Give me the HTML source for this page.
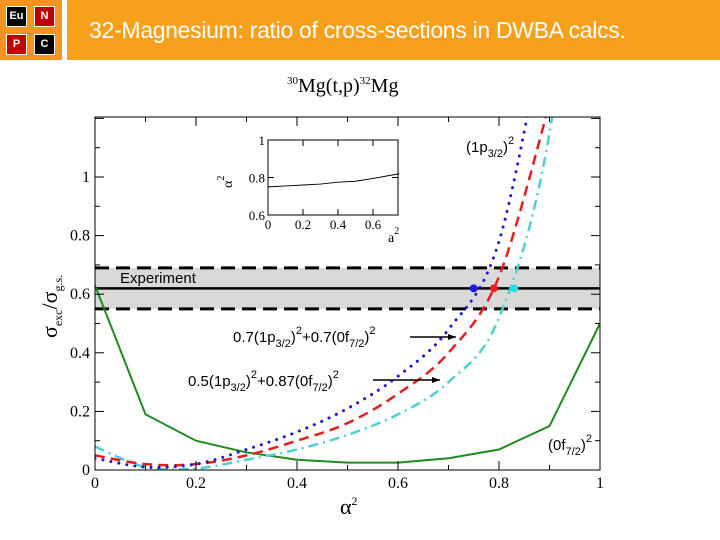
<!DOCTYPE html>
<html><head><meta charset="utf-8"><style>
body{margin:0;width:720px;height:540px;background:#fff;overflow:hidden;position:relative;font-family:"Liberation Sans",sans-serif}
.sq{position:absolute;width:19px;height:19px;color:#fff;font-weight:bold;font-size:11px;text-align:center;line-height:19px;border:1px solid #fff}
</style></head><body>
<div style="position:absolute;left:0;top:0;width:62px;height:60px;background:#f7931e">
<div class="sq" style="left:6px;top:6px;background:#000">Eu</div>
<div class="sq" style="left:34px;top:6px;background:#c00000">N</div>
<div class="sq" style="left:6px;top:34px;background:#c00000">P</div>
<div class="sq" style="left:34px;top:34px;background:#000">C</div>
</div>
<div style="position:absolute;left:67px;top:0;width:653px;height:60px;background:#f7a01c;color:#fff;font-size:23px;line-height:60px;padding-left:22px;box-sizing:border-box;font-family:'Liberation Sans',sans-serif;letter-spacing:-0.3px">32-Magnesium: ratio of cross-sections in DWBA calcs.</div>
<svg id="chart" width="720" height="540" style="position:absolute;left:0;top:0" font-family="Liberation Sans, sans-serif"></svg>
<script>
const xs=[0,0.1,0.2,0.3,0.4,0.5,0.6,0.7,0.8,0.9,1.0];
const greenVals=[0.63,0.19,0.10,0.06,0.035,0.025,0.025,0.04,0.07,0.15,0.50];
const redVals=[0.05,0.02,0.02,0.05,0.10,0.16,0.26,0.40,0.66,1.25];
const blueVals=[0.04,0.01,0.02,0.07,0.13,0.21,0.32,0.48,0.78,1.6];
const cyanVals=[0.08,0.01,0.005,0.035,0.07,0.12,0.19,0.30,0.52,1.15,2.5];
const expVal=0.62, expLo=0.55, expHi=0.69;
const crossX=[0.75,0.79,0.83];
const xTicks=[0,0.2,0.4,0.6,0.8,1];
const xTickLabels=["0","0.2","0.4","0.6","0.8","1"];
const yTicks=[0,0.2,0.4,0.6,0.8,1];
const yTickLabels=["0","0.2","0.4","0.6","0.8","1"];
const insetX=[0,0.1,0.2,0.3,0.4,0.5,0.6,0.75];
const insetY=[0.75,0.755,0.76,0.765,0.775,0.78,0.795,0.82];
const L=95,R=600,T=117,B=470;
const X=v=>L+v*(R-L), Y=v=>B-v*293;
const svg=document.getElementById('chart');const NS='http://www.w3.org/2000/svg';
function mk(t,a,p){const e=document.createElementNS(NS,t);for(const k in a)e.setAttribute(k,a[k]);(p||svg).appendChild(e);return e;}
const defs=mk('defs',{});const cp=mk('clipPath',{id:'cp'},defs);mk('rect',{x:L,y:T,width:R-L,height:B-T},cp);
let e;
e=mk('rect',{x:L,y:Y(expHi),width:R-L,height:Y(expLo)-Y(expHi),fill:'#d9d9d9'});

[expHi,expLo].forEach(v=>{e=mk('line',{x1:L,x2:R,y1:Y(v),y2:Y(v),stroke:'#000','stroke-width':3,'stroke-dasharray':'14,7'});
});
e=mk('line',{x1:L,x2:R,y1:Y(expVal),y2:Y(expVal),stroke:'#000','stroke-width':2.5});

const g=mk('g',{'clip-path':'url(#cp)'});
function smoothPath(P){let d='M'+P[0][0]+','+P[0][1];
for(let i=0;i<P.length-1;i++){const p0=P[Math.max(0,i-1)],p1=P[i],p2=P[i+1],p3=P[Math.min(P.length-1,i+2)];
const c1=[p1[0]+(p2[0]-p0[0])/6,p1[1]+(p2[1]-p0[1])/6],c2=[p2[0]-(p3[0]-p1[0])/6,p2[1]-(p3[1]-p1[1])/6];
d+=` C${c1[0]},${c1[1]} ${c2[0]},${c2[1]} ${p2[0]},${p2[1]}`;}return d;}
function series(vals,col,w,dash,name,smooth){const P=vals.map((v,i)=>[X(xs[i]),Y(v)]);
const a={d:smooth?smoothPath(P):'M'+P.map(p=>p.join(',')).join(' L'),fill:'none',stroke:col,'stroke-width':w};if(dash)a['stroke-dasharray']=dash;if(name==='blue-series')a['stroke-linecap']='round';
const p=mk('path',a,g);}
series(greenVals,'#1f8a1f',2,null,'green-series',false);
series(cyanVals,'#4fd0d0',2.5,'10,5,2,5','cyan-series',true);
series(redVals,'#e02020',2.5,'10,6','red-series',true);
series(blueVals,'#1a1acc',3,'0.1,8','blue-series',true);
[['#1a1aee',0],['#ee2020',1],['#22e0e0',2]].forEach(([c,i])=>{e=mk('circle',{cx:X(crossX[i]),cy:Y(expVal),r:4,fill:c});
});
e=mk('rect',{x:L,y:T,width:R-L,height:B-T,fill:'none',stroke:'#000','stroke-width':1});

for(let i=0;i<=10;i++){const v=i/10,len=i%2?5:9;
mk('line',{x1:X(v),x2:X(v),y1:B,y2:B-len,stroke:'#000'});mk('line',{x1:X(v),x2:X(v),y1:T,y2:T+len,stroke:'#000'});}
for(let i=0;i<=12;i++){const v=i/10,len=i%2?5:9;
mk('line',{x1:L,x2:L+len,y1:Y(v),y2:Y(v),stroke:'#000'});mk('line',{x1:R,x2:R-len,y1:Y(v),y2:Y(v),stroke:'#000'});}
xTicks.forEach((v,i)=>{e=mk('text',{x:X(v),y:B+18,'text-anchor':'middle','font-size':16,'font-family':'Liberation Serif, serif'});e.textContent=xTickLabels[i];
});
yTicks.forEach((v,i)=>{e=mk('text',{x:L-5,y:Y(v)+5,'text-anchor':'end','font-size':16,'font-family':'Liberation Serif, serif'});e.textContent=yTickLabels[i];
});
const iL=268,iR=398,iT=140,iB=215,IX=v=>iL+v*175,IY=v=>iB-(v-0.6)/0.4*(iB-iT);
e=mk('rect',{x:iL,y:iT,width:iR-iL,height:iB-iT,fill:'#fff',stroke:'#000'});

e=mk('polyline',{points:insetX.map((v,i)=>IX(v)+','+IY(insetY[i])).join(' '),fill:'none',stroke:'#000','stroke-width':1});

[0,0.2,0.4,0.6].forEach(v=>{mk('line',{x1:IX(v),x2:IX(v),y1:iB,y2:iB-6,stroke:'#000'});mk('line',{x1:IX(v),x2:IX(v),y1:iT,y2:iT+6,stroke:'#000'});
e=mk('text',{x:IX(v),y:iB+14,'text-anchor':'middle','font-size':13,'font-family':'Liberation Serif, serif'});e.textContent=String(v);
});
[0.6,0.8,1].forEach(v=>{mk('line',{x1:iL,x2:iL+6,y1:IY(v),y2:IY(v),stroke:'#000'});mk('line',{x1:iR,x2:iR-6,y1:IY(v),y2:IY(v),stroke:'#000'});
e=mk('text',{x:iL-3,y:IY(v)+5,'text-anchor':'end','font-size':13,'font-family':'Liberation Serif, serif'});e.textContent=String(v);
});
function txt(x,y,s,size,name,extra){const t=mk('text',Object.assign({x:x,y:y,'font-size':size},extra||{}));t.innerHTML=s;return t;}
txt(388,242,'a<tspan dy="-8" font-size="10">2</tspan>',14,'inset-x-title',{'font-family':'Liberation Serif, serif'});
txt(0,0,'α<tspan dy="-8" font-size="10">2</tspan>',14,'inset-y-title',{'font-family':'Liberation Serif, serif',transform:'translate(232,188) rotate(-90)'});
txt(120,283,'Experiment',15,'experiment-label');
txt(466,152,'',15,'label-1p32').innerHTML='(1p<tspan dy="5" font-size="11">3/2</tspan><tspan dy="-5">)</tspan><tspan dy="-8" font-size="11">2</tspan>';
txt(548,450,'',15,'label-0f72').innerHTML='(0f<tspan dy="5" font-size="11">7/2</tspan><tspan dy="-5">)</tspan><tspan dy="-8" font-size="11">2</tspan>';
txt(233,342,'',15,'label-mix-07').innerHTML='0.7(1p<tspan dy="5" font-size="11">3/2</tspan><tspan dy="-5">)</tspan><tspan dy="-8" font-size="11">2</tspan><tspan dy="8">+0.7(0f</tspan><tspan dy="5" font-size="11">7/2</tspan><tspan dy="-5">)</tspan><tspan dy="-8" font-size="11">2</tspan>';
txt(188,386,'',15,'label-mix-05').innerHTML='0.5(1p<tspan dy="5" font-size="11">3/2</tspan><tspan dy="-5">)</tspan><tspan dy="-8" font-size="11">2</tspan><tspan dy="8">+0.87(0f</tspan><tspan dy="5" font-size="11">7/2</tspan><tspan dy="-5">)</tspan><tspan dy="-8" font-size="11">2</tspan>';
function arrow(x1,x2,y,name){const a=mk('g',{});
mk('line',{x1:x1,x2:x2,y1:y,y2:y,stroke:'#000','stroke-width':1.5},a);mk('polygon',{points:`${x2},${y} ${x2-8},${y-3} ${x2-8},${y+3}`,fill:'#000'},a);}
arrow(410,456,337,'arrow-07');arrow(373,440,380,'arrow-05');
txt(340,514,'α<tspan dy="-9" font-size="12">2</tspan>',22,'x-axis-title',{'font-family':'Liberation Serif, serif'});
txt(0,0,'σ<tspan dy="5" font-size="12">exc</tspan><tspan dy="-5">/σ</tspan><tspan dy="5" font-size="12">g.s.</tspan>',22,'y-axis-title',{'font-family':'Liberation Serif, serif',transform:'translate(57,338) rotate(-90)'});
txt(287,92,'<tspan dy="-8" font-size="11">30</tspan><tspan dy="8">Mg(t,p)</tspan><tspan dy="-8" font-size="11">32</tspan><tspan dy="8">Mg</tspan>',20,'chart-title',{'font-family':'Liberation Serif, serif'});
</script>
</body></html>
